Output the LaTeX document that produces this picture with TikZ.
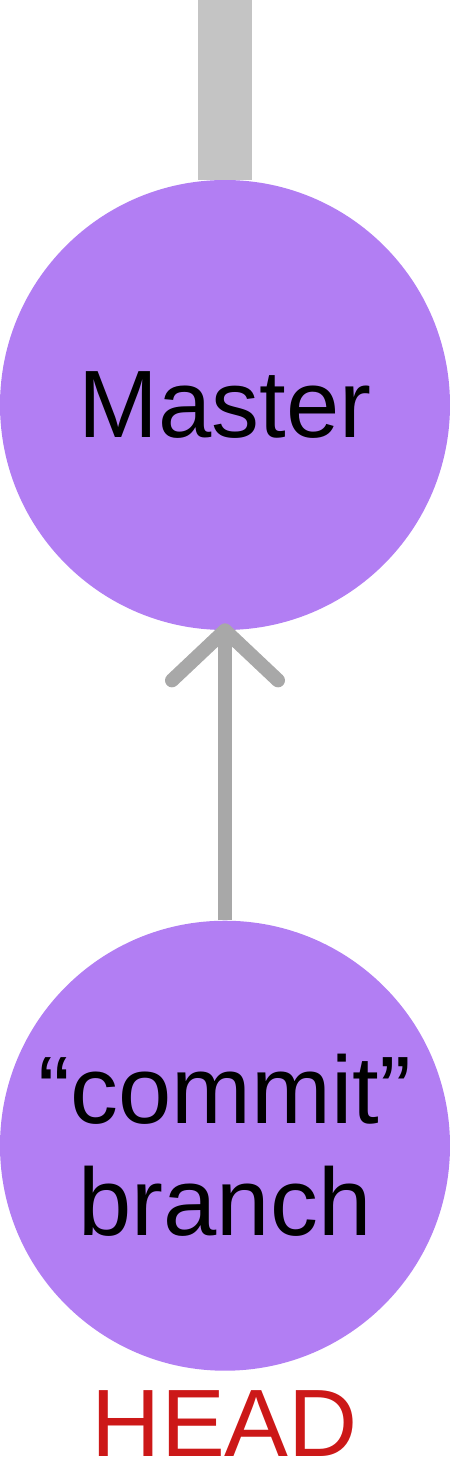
\documentclass[tikz,border=0pt]{standalone}
\usepackage{fontspec}
\setmainfont{Liberation Sans}
\usetikzlibrary{positioning,arrows.meta}
\definecolor{commitpurple}{RGB}{178,126,243}
\definecolor{trunkgray}{RGB}{196,196,196}
\definecolor{linkgray}{RGB}{168,168,168}
\definecolor{headred}{RGB}{204,24,24}

\begin{document}
\begin{tikzpicture}[
  x=0.2mm, y=-0.2mm,
  font=\fontsize{54.5}{63.7}\selectfont,
  node distance=58mm,
  commit/.style={circle, fill=commitpurple, minimum size=90mm,
                 inner sep=0pt, align=center},
  trunk/.style={draw=trunkgray, line width=10.8mm},
  link/.style={draw=linkgray, line width=2.8mm, shorten >=-1.4mm,
               -{Straight Barb[length=10mm, width=21.2mm, round]}}
]
\path[use as bounding box] (0,0) rectangle (450,1460);
\node[commit] (master) at (225,405) {Master};
\node[commit, below=of master] (branch) {“commit”\\branch};
\node[text=headred, inner sep=0pt, below=3.8mm of branch] (head) {HEAD};

\coordinate (prev) at (225,0);
\draw[trunk] (prev) -- (master.north);
\draw[link] (branch) -- (master);
\end{tikzpicture}
\end{document}
